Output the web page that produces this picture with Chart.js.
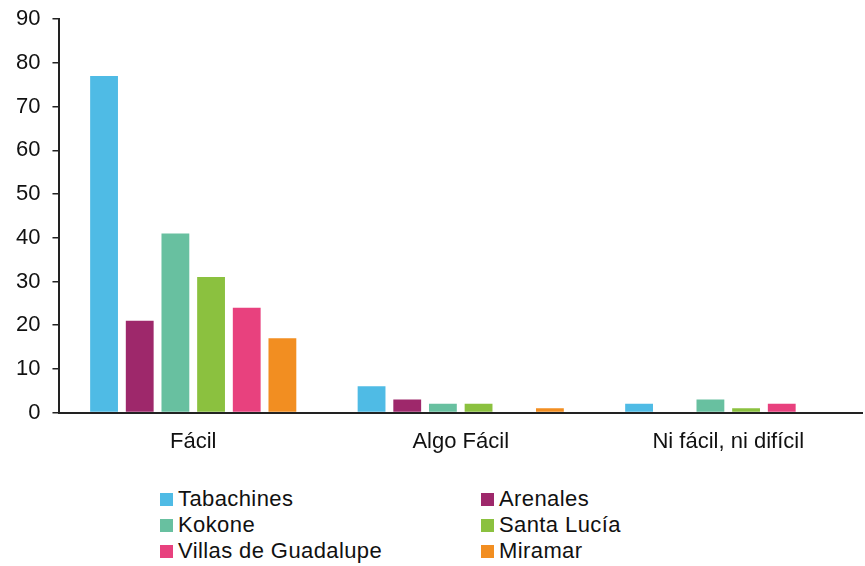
<!DOCTYPE html>
<html>
<head>
<meta charset="utf-8">
<script src="https://cdn.jsdelivr.net/npm/chart.js@4/dist/chart.umd.min.js"></script>
<style>
  body { margin: 0; background: #fff; font-family: "Liberation Sans", Arial, sans-serif; overflow: hidden; }
  #wrap { position: relative; width: 865px; height: 566px; overflow: hidden; }
  #chartBox { position: absolute; left: 0; top: -6px; width: 865px; height: 469px; }
  #legend { position: absolute; left: 160px; top: 487px; display: grid; grid-template-columns: 321px 200px; row-gap: 2px; }
  .item { display: flex; align-items: center; font-size: 22px; color: #111; height: 24px; letter-spacing: 0.4px; }
  .box { width: 13px; height: 13px; margin-right: 5px; }
</style>
</head>
<body>
<div id="wrap">
  <div id="chartBox"><canvas id="chart"></canvas></div>
  <div id="legend"></div>
</div>
<script>
const categories = ["Fácil", "Algo Fácil", "Ni fácil, ni difícil"];
const seriesNames = ["Tabachines", "Arenales", "Kokone", "Santa Lucía", "Villas de Guadalupe", "Miramar"];
const tabachines = [77, 6, 2];
const arenales = [21, 3, 0];
const kokone = [41, 2, 3];
const santaLucia = [31, 2, 1];
const villas = [24, 0, 2];
const miramar = [17, 1, 0];
const colors = ["#4fbbe5", "#9e286b", "#68c0a0", "#8bc13f", "#e8417e", "#f28e21"];

const allValues = [tabachines, arenales, kokone, santaLucia, villas, miramar];

const datasets = seriesNames.map((name, i) => ({
    label: name,
    data: allValues[i],
    backgroundColor: colors[i],
    categoryPercentage: 0.8,
    barPercentage: 0.78
}));

new Chart(document.getElementById("chart").getContext("2d"), {
    type: "bar",
    data: { labels: categories, datasets: datasets },
    options: {
        responsive: true,
        maintainAspectRatio: false,
        animation: false,
        layout: { padding: { top: 4, right: 3, left: 4, bottom: 0 } },
        plugins: { legend: { display: false }, tooltip: { enabled: false } },
        scales: {
            x: {
                grid: { display: false },
                border: { color: "#222", width: 2 },
                ticks: { color: "#111", font: { family: "Liberation Sans", size: 22 }, padding: 8 }
            },
            y: {
                min: 0, max: 90,
                ticks: { stepSize: 10, color: "#111", font: { family: "Liberation Sans", size: 22 }, padding: 12 },
                grid: { drawOnChartArea: false, drawTicks: true, tickLength: 7, color: "#222", lineWidth: 1.5 },
                border: { color: "#222", width: 2 }
            }
        }
    }
});

// legend in two columns
let legendHTML = "";
seriesNames.forEach((name, i) => {
    legendHTML += `<div class="item"><span class="box" style="background:${colors[i]}"></span>${name}</div>`;
});
document.getElementById("legend").innerHTML = legendHTML;
</script>
</body>
</html>
